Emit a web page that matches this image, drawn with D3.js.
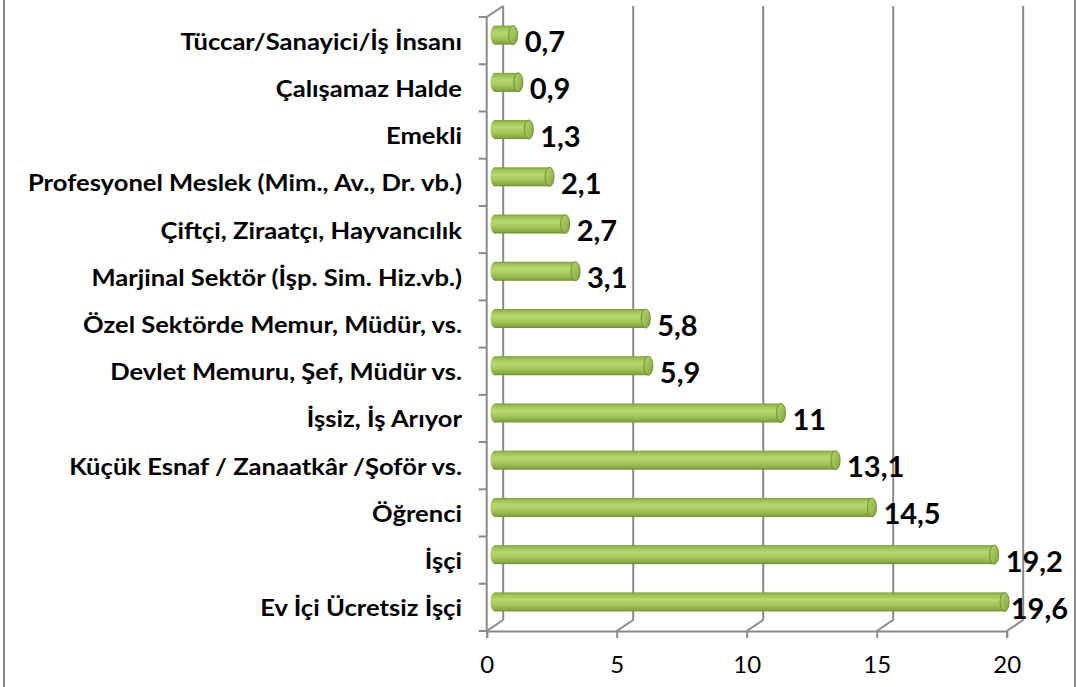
<!DOCTYPE html>
<html><head><meta charset="utf-8">
<script src="https://cdn.jsdelivr.net/npm/d3@7"></script>
<style>
html,body{margin:0;padding:0;background:#fff;}
svg{display:block;}
</style></head>
<body>
<svg id="c" width="1076" height="687"></svg>
<script>
const categories = [
  "Tüccar/Sanayici/İş İnsanı",
  "Çalışamaz Halde",
  "Emekli",
  "Profesyonel Meslek (Mim., Av., Dr. vb.)",
  "Çiftçi, Ziraatçı, Hayvancılık",
  "Marjinal Sektör (İşp. Sim. Hiz.vb.)",
  "Özel Sektörde Memur, Müdür, vs.",
  "Devlet Memuru, Şef, Müdür vs.",
  "İşsiz, İş Arıyor",
  "Küçük Esnaf / Zanaatkâr /Şoför vs.",
  "Öğrenci",
  "İşçi",
  "Ev İçi Ücretsiz İşçi"
];
const values = [0.7, 0.9, 1.3, 2.1, 2.7, 3.1, 5.8, 5.9, 11, 13.1, 14.5, 19.2, 19.6];
const valueLabels = ["0,7","0,9","1,3","2,1","2,7","3,1","5,8","5,9","11","13,1","14,5","19,2","19,6"];
const xTicks = [0, 5, 10, 15, 20];

const svg = d3.select("#c");
const FONT = "Lato, 'Open Sans', sans-serif";
const floorY = 631, topY = 17;
const DX = 16.5, DY = -11;      // depth offset (front -> back)
const gridCol = "#8a8a8a";

const x = d3.scaleLinear().domain([0, 20]).range([486.7, 1006.7]);
const y = d3.scaleBand().domain(categories).range([topY, floorY]).padding(0);

// chart frame (left/right)
svg.append("line").attr("x1",4).attr("x2",4).attr("y1",0).attr("y2",687).attr("stroke",gridCol).attr("stroke-width",2);
svg.append("line").attr("x1",1075).attr("x2",1075).attr("y1",0).attr("y2",687).attr("stroke",gridCol).attr("stroke-width",2);

// gradients
const defs = svg.append("defs");
const g1 = defs.append("linearGradient").attr("id","cyl").attr("x1",0).attr("y1",0).attr("x2",0).attr("y2",1);
[[0,"#7d9c3a"],[0.12,"#9cbf55"],[0.38,"#b6d870"],[0.65,"#a5c85d"],[0.9,"#88aa43"],[1,"#6e8b2f"]]
  .forEach(([o,c]) => g1.append("stop").attr("offset",o).attr("stop-color",c));
const g2 = defs.append("linearGradient").attr("id","cap").attr("x1",0).attr("y1",0).attr("x2",1).attr("y2",1);
[[0,"#b3d46d"],[0.6,"#98bb52"],[1,"#7a9a3a"]]
  .forEach(([o,c]) => g2.append("stop").attr("offset",o).attr("stop-color",c));

// back wall gridlines
const grid = svg.append("g");
xTicks.forEach(t => {
  const fx = x(t);
  grid.append("line").attr("x1",fx+DX).attr("x2",fx+DX).attr("y1",topY+DY).attr("y2",floorY+DY)
    .attr("stroke",gridCol).attr("stroke-width",2);
  grid.append("line").attr("x1",fx).attr("x2",fx+DX).attr("y1",floorY).attr("y2",floorY+DY)
    .attr("stroke",gridCol).attr("stroke-width",2);
});
// left wall front edge + top slant
grid.append("line").attr("x1",x(0)).attr("x2",x(0)).attr("y1",topY).attr("y2",floorY).attr("stroke",gridCol).attr("stroke-width",2);
grid.append("line").attr("x1",x(0)).attr("x2",x(0)+DX).attr("y1",topY).attr("y2",topY+DY).attr("stroke",gridCol).attr("stroke-width",2);
// left ticks at band boundaries
const bounds = categories.map(c => y(c)).concat([floorY]);
bounds.forEach(b => {
  grid.append("line").attr("x1",x(0)-8).attr("x2",x(0)).attr("y1",b).attr("y2",b).attr("stroke",gridCol).attr("stroke-width",2);
});

// bottom axis
const ax = svg.append("g").attr("transform",`translate(0,${floorY})`)
  .call(d3.axisBottom(x).tickValues(xTicks).tickSize(7).tickFormat(d3.format("d")));
ax.select(".domain").attr("stroke",gridCol).attr("stroke-width",2);
ax.selectAll(".tick line").attr("stroke",gridCol).attr("stroke-width",2);
ax.selectAll(".tick text").attr("font-family",FONT).attr("font-size",24).attr("fill","#000")
  .attr("y",42).attr("dy",0);

// bars
const bh = 19, rx = 4.5;
const bars = svg.append("g");
categories.forEach((c, i) => {
  const cy = y(c) + y.bandwidth()/2 + DY/2;
  const x0 = x(0) + DX/2, x1 = x(values[i]) + DX/2;
  const g = bars.append("g");
  g.append("ellipse").attr("cx",x0).attr("cy",cy).attr("rx",rx).attr("ry",bh/2).attr("fill","url(#cyl)");
  g.append("rect").attr("x",x0).attr("y",cy-bh/2).attr("width",x1-x0).attr("height",bh).attr("fill","url(#cyl)");
  g.append("ellipse").attr("cx",x1).attr("cy",cy).attr("rx",rx).attr("ry",bh/2).attr("fill","url(#cap)")
    .attr("stroke","#6f8f32").attr("stroke-width",1);
});

// value labels
categories.forEach((c, i) => {
  const cy = y(c) + y.bandwidth()/2;
  const t = svg.append("text").text(valueLabels[i])
    .attr("font-family",FONT).attr("font-weight",700).attr("font-size",29).attr("fill","#000")
    .attr("dominant-baseline","central").attr("y",cy);
  const w = t.node().getComputedTextLength();
  const end = x(values[i]) + DX/2 + rx + 7;
  t.attr("x", Math.min(end, 1068 - w));
});

// category labels
const labs = categories.map(c => svg.append("text").text(c)
  .attr("font-family",FONT).attr("font-weight",700).attr("font-size",23).attr("fill","#000")
  .attr("text-anchor","end").attr("dominant-baseline","central")
  .attr("x",462).attr("y", y(c) + y.bandwidth()/2));
const widths = labs.map(t => t.node().getComputedTextLength());
const maxW = d3.max(widths);
const k = 434 / maxW;
labs.forEach((t, i) => {
  t.attr("textLength", widths[i]*k).attr("lengthAdjust","spacingAndGlyphs");
});
</script>
</body></html>
